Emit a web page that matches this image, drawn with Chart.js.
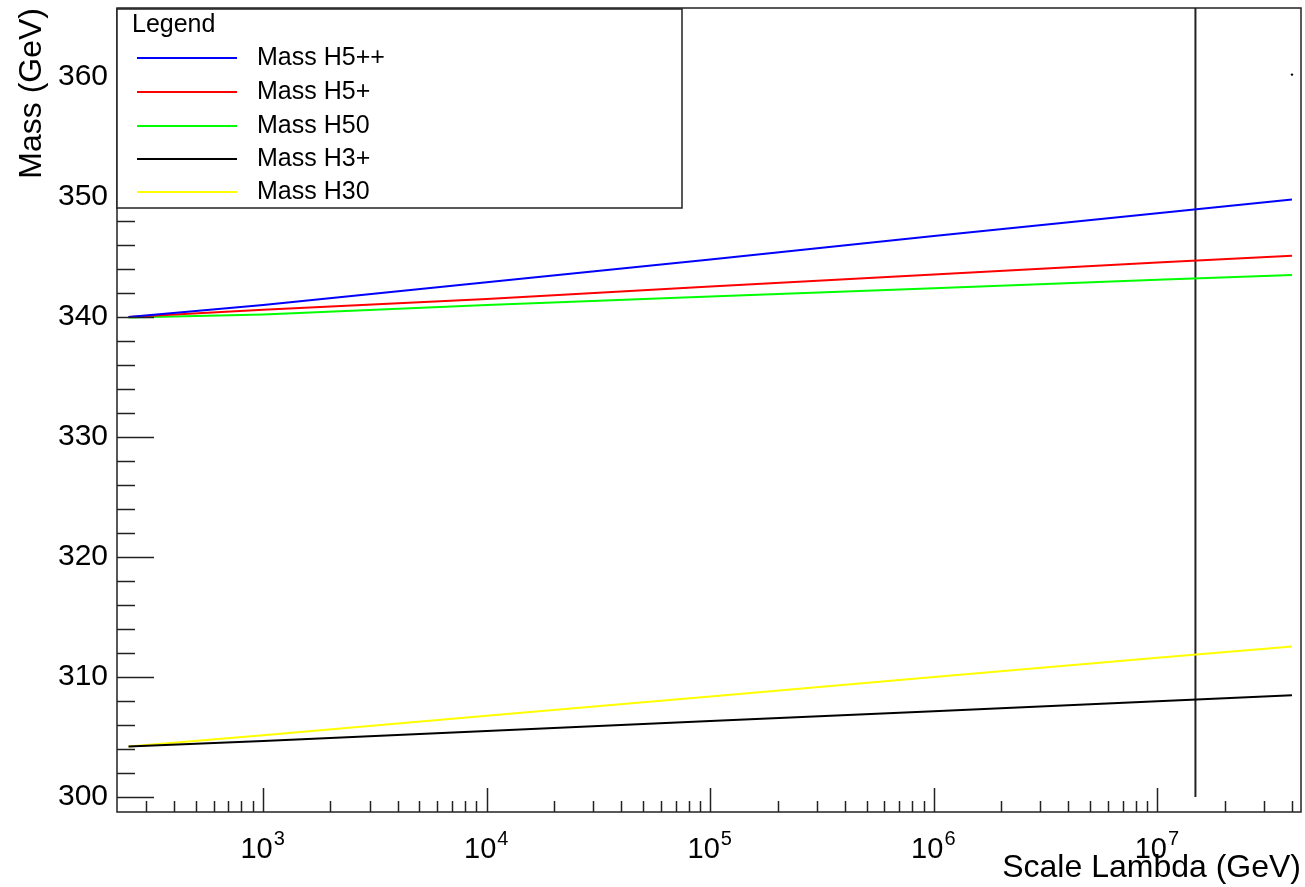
<!DOCTYPE html>
<html><head><meta charset="utf-8">
<script src="https://cdn.jsdelivr.net/npm/chart.js@4.4.0/dist/chart.umd.min.js"></script>
<style>html,body{margin:0;padding:0;background:#fff;}#wrap{width:1305px;height:887px;position:relative;}</style>
</head><body><div id="wrap"><canvas id="c" width="1305" height="887"></canvas></div>
<script>
const lambdaValues = [250, 1e3, 1e4, 1e5, 1e6, 1e7, 4e7];
const massH5pp = [340.0, 341.0, 342.9, 344.8, 346.75, 348.65, 349.8];
const massH5p  = [340.0, 340.6, 341.5, 342.55, 343.55, 344.55, 345.1];
const massH50  = [339.95, 340.2, 341.0, 341.7, 342.4, 343.1, 343.5];
const massH3p  = [304.2, 304.67, 305.5, 306.33, 307.15, 307.98, 308.48];
const massH30  = [304.2, 305.15, 306.77, 308.38, 309.99, 311.6, 312.55];
const seriesLabels = ['Mass H5++', 'Mass H5+', 'Mass H50', 'Mass H3+', 'Mass H30'];
const seriesColors = ['#0000ff', '#ff0000', '#00ff00', '#000000', '#ffff00'];
const seriesValues = [massH5pp, massH5p, massH50, massH3p, massH30];
const lambdaCut = 1.48e7;
const cutMassRange = [300, 366];
const markerPoint = [4e7, 360.2];
const xTickExponents = [3, 4, 5, 6, 7];
const yTickValues = [300, 310, 320, 330, 340, 350, 360];
const xRange = [222, 4.39e7];
const yRange = [298.75, 365.75];

const FONT = '"Liberation Sans", Arial, Helvetica, sans-serif';

const datasets = seriesValues.map((vals, i) => ({
  label: seriesLabels[i],
  data: lambdaValues.map((x, j) => ({x: x, y: vals[j]})),
  borderColor: seriesColors[i],
  backgroundColor: seriesColors[i],
  borderWidth: 2,
  pointRadius: 0,
  tension: 0,
  fill: false
}));
datasets.push({
  label: 'cut',
  data: cutMassRange.map(y => ({x: lambdaCut, y: y})),
  borderColor: '#222', borderWidth: 2, pointRadius: 0, fill: false
});
datasets.push({
  label: 'marker',
  data: [{x: markerPoint[0], y: markerPoint[1]}],
  showLine: false, pointRadius: 1.2, pointBorderWidth: 0,
  backgroundColor: '#000', borderColor: '#000'
});

const rootPlugin = {
  id: 'rootStyle',
  afterDatasetsDraw(chart) {
    const ctx = chart.ctx;
    const a = chart.chartArea;
    const xs = chart.scales.x, ys = chart.scales.y;
    ctx.save();
    ctx.strokeStyle = '#222';
    ctx.lineWidth = 1.5;
    ctx.beginPath();
    for (let v = 300; v <= 364; v += 2) {
      const py = Math.round(ys.getPixelForValue(v)) + 0.5;
      const len = (v % 10 === 0) ? 37 : 18;
      ctx.moveTo(a.left, py); ctx.lineTo(a.left + len, py);
    }
    for (let n = 2; n <= 7; n++) {
      for (let k = 1; k <= 9; k++) {
        const val = k * Math.pow(10, n);
        if (val < xRange[0] || val > xRange[1]) continue;
        const px = Math.round(xs.getPixelForValue(val)) + 0.5;
        const len = (k === 1) ? 24 : 11;
        ctx.moveTo(px, a.bottom); ctx.lineTo(px, a.bottom - len);
      }
    }
    ctx.stroke();
    ctx.lineWidth = 1.5;
    ctx.strokeRect(a.left, a.top, a.right - a.left, a.bottom - a.top);
    ctx.fillStyle = '#000';
    ctx.textBaseline = 'alphabetic';
    ctx.textAlign = 'left';
    xTickExponents.forEach(e => {
      const px = xs.getPixelForValue(Math.pow(10, e));
      ctx.font = '29px ' + FONT;
      const w1 = ctx.measureText('10').width;
      ctx.font = '20px ' + FONT;
      const w2 = ctx.measureText(String(e)).width;
      const x0 = px - (w1 + w2) / 2 - 1;
      ctx.font = '29px ' + FONT;
      ctx.fillText('10', x0, 858);
      ctx.font = '20px ' + FONT;
      ctx.fillText(String(e), x0 + w1 + 1, 845);
    });
    const lx = a.left, ly = 9, lw = 682 - a.left, lh = 199;
    ctx.fillStyle = '#fff';
    ctx.fillRect(lx, ly, lw, lh);
    ctx.lineWidth = 1.5;
    ctx.strokeStyle = '#222';
    ctx.strokeRect(lx, ly, lw, lh);
    ctx.fillStyle = '#000';
    ctx.font = '25px ' + FONT;
    ctx.fillText('Legend', 132, 32);
    const rowBase = [65, 99, 133, 166, 199];
    for (let i = 0; i < 5; i++) {
      const ds = chart.data.datasets[i];
      ctx.strokeStyle = ds.borderColor;
      ctx.lineWidth = 2;
      ctx.beginPath();
      ctx.moveTo(137, rowBase[i] - 7); ctx.lineTo(237, rowBase[i] - 7);
      ctx.stroke();
      ctx.fillStyle = '#000';
      ctx.font = '25px ' + FONT;
      ctx.fillText(ds.label, 257, rowBase[i]);
    }
    ctx.restore();
  }
};

new Chart(document.getElementById('c'), {
  type: 'line',
  data: {datasets: datasets},
  plugins: [rootPlugin],
  options: {
    responsive: false,
    animation: false,
    devicePixelRatio: 1,
    layout: {padding: {left: 0, right: 1, top: 8, bottom: 0}},
    plugins: {legend: {display: false}, tooltip: {enabled: false}},
    scales: {
      x: {
        type: 'logarithmic', min: xRange[0], max: xRange[1],
        afterBuildTicks: s => { s.ticks = xTickExponents.map(e => ({value: Math.pow(10, e)})); },
        afterFit: s => { s.height = 75; s.paddingLeft = 0; s.paddingRight = 0; },
        ticks: {display: false},
        grid: {display: false, drawTicks: false},
        border: {display: false},
        title: {display: true, text: 'Scale Lambda (GeV)', align: 'end', color: '#000',
                font: {family: FONT, size: 32}, padding: {top: 0, bottom: 0}}
      },
      y: {
        type: 'linear', min: yRange[0], max: yRange[1],
        afterBuildTicks: s => { s.ticks = yTickValues.map(v => ({value: v})); },
        afterFit: s => { s.width = 117; s.paddingTop = 0; s.paddingBottom = 0; },
        ticks: {color: '#000', padding: 9, font: {family: FONT, size: 30}},
        grid: {display: false, drawTicks: false},
        border: {display: false},
        title: {display: true, text: 'Mass (GeV)', align: 'end', color: '#000',
                font: {family: FONT, size: 32}, padding: {top: 13, bottom: 0}}
      }
    }
  }
});
</script></body></html>
